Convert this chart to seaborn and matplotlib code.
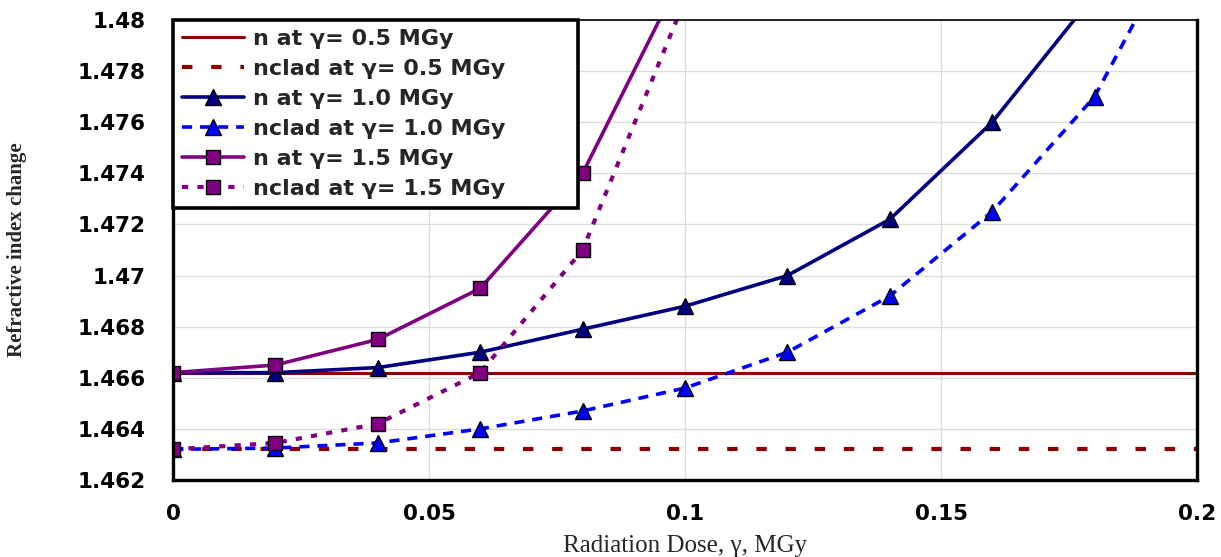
import matplotlib
matplotlib.use("Agg")
import matplotlib.pyplot as plt
from matplotlib.ticker import MultipleLocator, FixedLocator
import seaborn as sns
import pandas as pd

# ---- data ----
dose_full = [0.0, 0.02, 0.04, 0.06, 0.08, 0.10, 0.12, 0.14, 0.16, 0.18, 0.20]
n_05 = [1.4662, 1.4662, 1.4662, 1.4662, 1.4662, 1.4662, 1.4662, 1.4662, 1.4662, 1.4662, 1.4662]
nclad_05 = [1.4632, 1.4632, 1.4632, 1.4632, 1.4632, 1.4632, 1.4632, 1.4632, 1.4632, 1.4632, 1.4632]

dose_n10 = [0.0, 0.02, 0.04, 0.06, 0.08, 0.10, 0.12, 0.14, 0.16, 0.18]
n_10 = [1.4662, 1.4662, 1.4664, 1.4670, 1.4679, 1.4688, 1.4700, 1.4722, 1.4760, 1.4810]

dose_nclad10 = [0.0, 0.02, 0.04, 0.06, 0.08, 0.10, 0.12, 0.14, 0.16, 0.18, 0.20]
nclad_10 = [1.4632, 1.46325, 1.46345, 1.4640, 1.4647, 1.4656, 1.4670, 1.4692, 1.4725, 1.4770, 1.4845]

dose_15 = [0.0, 0.02, 0.04, 0.06, 0.08, 0.10]
n_15 = [1.4662, 1.4665, 1.4675, 1.4695, 1.4740, 1.4820]
nclad_15 = [1.4632, 1.46345, 1.4642, 1.4662, 1.4710, 1.4808]

labels = ["n at γ= 0.5 MGy", "nclad at γ= 0.5 MGy",
          "n at γ= 1.0 MGy", "nclad at γ= 1.0 MGy",
          "n at γ= 1.5 MGy", "nclad at γ= 1.5 MGy"]

x_ticks = [0, 0.05, 0.1, 0.15, 0.2]
y_ticks = [1.462, 1.464, 1.466, 1.468, 1.47, 1.472, 1.474, 1.476, 1.478, 1.48]
x_label = "Radiation Dose, γ, MGy"
y_label = "Refractive index change"

# ---- styling ----
sns.set_style("white")
plt.rcParams["font.family"] = ["DejaVu Sans"]

fig = plt.figure(figsize=(12.21, 5.57), dpi=100)
ax = fig.add_axes([173 / 1221, 77 / 557, 1024 / 1221, 460 / 557])

series = [
    dict(x=dose_full, y=n_05, color="#8B0000", lw=2.2, ls="-", marker=None, mfc=None, ms=0),
    dict(x=dose_full, y=nclad_05, color="#8B0000", lw=3.0, ls=(0, (2.5, 4.5)), marker=None, mfc=None, ms=0),
    dict(x=dose_n10, y=n_10, color="#000080", lw=2.6, ls="-", marker="^", mfc="#000080", ms=11),
    dict(x=dose_nclad10, y=nclad_10, color="#0000FF", lw=2.6, ls=(0, (2.8, 2.2)), marker="^", mfc="#0000FF", ms=11),
    dict(x=dose_15, y=n_15, color="#800080", lw=2.6, ls="-", marker="s", mfc="#800080", ms=9.5),
    dict(x=dose_15, y=nclad_15, color="#800080", lw=3.0, ls=(0, (1.5, 2.2)), marker="s", mfc="#800080", ms=9.5),
]

for s, lab in zip(series, labels):
    df = pd.DataFrame({"x": s["x"], "y": s["y"]})
    kws = dict(color=s["color"], linewidth=s["lw"], linestyle=s["ls"], label=lab)
    if s["marker"]:
        kws.update(marker=s["marker"], markersize=s["ms"], markerfacecolor=s["mfc"],
                   markeredgecolor="black", markeredgewidth=1.0)
    sns.lineplot(data=df, x="x", y="y", ax=ax, **kws)

ax.set_xlim(0, 0.2)
ax.set_ylim(1.462, 1.48)
ax.xaxis.set_major_locator(FixedLocator(x_ticks))
ax.yaxis.set_major_locator(FixedLocator(y_ticks))
ax.xaxis.set_minor_locator(MultipleLocator(0.01))
ax.yaxis.set_minor_locator(MultipleLocator(0.0004))
ax.set_xticklabels([f"{v:g}" for v in x_ticks])
ax.set_yticklabels([f"{v:g}" for v in y_ticks])

ax.grid(True, which="major", color="#dcdcdc", linewidth=1.0)
ax.set_axisbelow(True)

ax.tick_params(axis="both", which="both", direction="in", colors="#555555",
               labelcolor="black", labelsize=15.5)
ax.tick_params(axis="both", which="major", length=6, width=1)
ax.tick_params(axis="both", which="minor", length=6, width=1)
ax.tick_params(axis="x", which="major", pad=17)
ax.tick_params(axis="y", which="major", pad=20)
for t in ax.get_xticklabels() + ax.get_yticklabels():
    t.set_fontweight("bold")

for side, lw in [("left", 2.4), ("bottom", 2.4), ("right", 2.4), ("top", 1.2)]:
    ax.spines[side].set_visible(True)
    ax.spines[side].set_color("black")
    ax.spines[side].set_linewidth(lw)

ax.set_xlabel(x_label, fontfamily="Liberation Serif", fontsize=18, labelpad=8)
ax.set_ylabel(y_label, fontfamily="Liberation Serif", fontsize=15, fontweight="bold")
ax.yaxis.set_label_coords(-0.1426, 0.5)

leg = ax.legend(loc="upper left", bbox_to_anchor=(0, 1.0, 405 / 1024, 0.0), mode="expand",
                borderaxespad=0, frameon=True, fancybox=False, framealpha=1,
                prop=dict(family="DejaVu Sans", weight="bold", size=16),
                handlelength=2.8, handletextpad=0.4, labelspacing=0.45, borderpad=0.4)
leg.get_frame().set_edgecolor("black")
leg.get_frame().set_linewidth(2.6)

fig.savefig("out.png", dpi=100)
